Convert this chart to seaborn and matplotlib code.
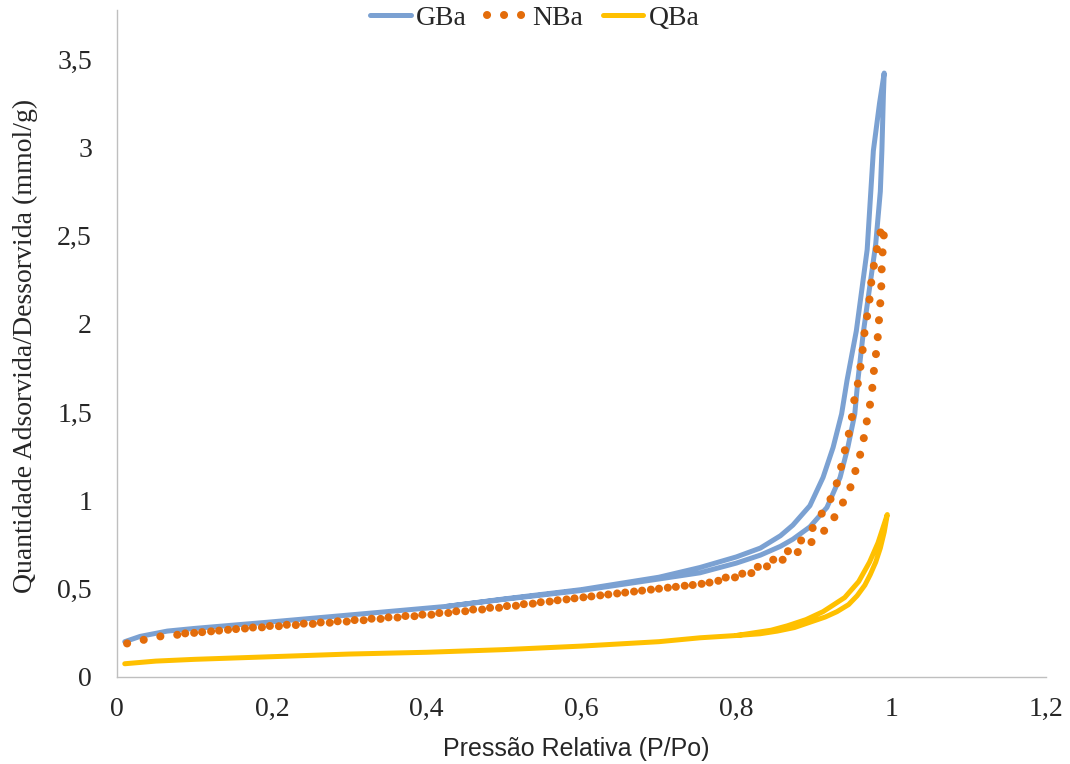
import matplotlib
matplotlib.use("Agg")
import matplotlib.pyplot as plt
import seaborn as sns
import pandas as pd
from matplotlib.ticker import FuncFormatter

# ---------------- data ----------------
gba_ads_p = [0.01, 0.03, 0.065, 0.10, 0.194, 0.323, 0.426, 0.50, 0.60, 0.70, 0.753, 0.80,
             0.831, 0.857, 0.873, 0.895, 0.917, 0.934, 0.944, 0.953, 0.957, 0.964, 0.972,
             0.980, 0.986, 0.988, 0.990, 0.991]
gba_ads_q = [0.20, 0.23, 0.26, 0.275, 0.31, 0.36, 0.40, 0.44, 0.49, 0.555, 0.59, 0.645,
             0.69, 0.74, 0.78, 0.85, 0.96, 1.13, 1.30, 1.49, 1.68, 1.95, 2.20,
             2.45, 2.75, 2.98, 3.30, 3.42]
gba_des_p = [0.991, 0.985, 0.977, 0.973, 0.969, 0.955, 0.943, 0.936, 0.925, 0.912, 0.895,
             0.873, 0.857, 0.831, 0.80, 0.753, 0.70, 0.60, 0.50, 0.426]
gba_des_q = [3.42, 3.25, 2.98, 2.70, 2.42, 1.96, 1.68, 1.49, 1.30, 1.13, 0.97,
             0.86, 0.80, 0.73, 0.68, 0.62, 0.565, 0.495, 0.442, 0.40]

nba_ads_p = [0.013, 0.034, 0.056, 0.08, 0.10, 0.15, 0.20, 0.30, 0.40, 0.50, 0.60, 0.70,
             0.76, 0.794, 0.815, 0.836, 0.858, 0.877, 0.896, 0.912, 0.926, 0.938, 0.948,
             0.954, 0.960, 0.965, 0.969, 0.973, 0.976, 0.978, 0.981, 0.983, 0.985, 0.987,
             0.988, 0.990, 0.991]
nba_ads_q = [0.19, 0.21, 0.23, 0.24, 0.25, 0.27, 0.285, 0.315, 0.35, 0.395, 0.45, 0.50,
             0.53, 0.56, 0.58, 0.62, 0.66, 0.70, 0.76, 0.82, 0.90, 0.99, 1.08,
             1.17, 1.26, 1.36, 1.46, 1.55, 1.65, 1.75, 1.85, 1.94, 2.07, 2.17,
             2.36, 2.46, 2.55]
nba_des_p = [0.991, 0.988, 0.983, 0.979, 0.975, 0.973, 0.970, 0.966, 0.964, 0.961, 0.958,
             0.953, 0.950, 0.946, 0.941, 0.936, 0.930, 0.922, 0.911, 0.898, 0.883, 0.866,
             0.846, 0.826, 0.805, 0.783, 0.762, 0.70, 0.60, 0.50, 0.40, 0.30, 0.20, 0.10, 0.08]
nba_des_q = [2.55, 2.55, 2.46, 2.36, 2.27, 2.17, 2.07, 1.97, 1.88, 1.78, 1.68,
             1.59, 1.49, 1.39, 1.30, 1.20, 1.10, 1.01, 0.93, 0.84, 0.77, 0.71,
             0.66, 0.62, 0.58, 0.56, 0.53, 0.50, 0.45, 0.40, 0.355, 0.32, 0.29, 0.25, 0.245]

qba_ads_p = [0.01, 0.05, 0.10, 0.20, 0.30, 0.40, 0.50, 0.60, 0.70, 0.753, 0.80, 0.831,
             0.853, 0.875, 0.895, 0.915, 0.930, 0.945, 0.956, 0.966, 0.973, 0.980, 0.986,
             0.991, 0.995]
qba_ads_q = [0.075, 0.09, 0.10, 0.115, 0.13, 0.14, 0.155, 0.175, 0.20, 0.222, 0.235, 0.245,
             0.26, 0.28, 0.31, 0.34, 0.37, 0.41, 0.46, 0.52, 0.58, 0.65, 0.73,
             0.82, 0.92]
qba_des_p = [0.995, 0.992, 0.983, 0.972, 0.958, 0.940, 0.912, 0.890, 0.866, 0.845, 0.80]
qba_des_q = [0.92, 0.88, 0.76, 0.65, 0.54, 0.45, 0.37, 0.325, 0.29, 0.265, 0.235]

series_names = ["GBa", "NBa", "QBa"]
colors = {"GBa": "#7BA1D2", "NBa": "#E36C0A", "QBa": "#FFC000"}

x_ticks = [0, 0.2, 0.4, 0.6, 0.8, 1.0, 1.2]
y_ticks = [0, 0.5, 1.0, 1.5, 2.0, 2.5, 3.0, 3.5]
x_label = "Pressão Relativa (P/Po)"
y_label = "Quantidade Adsorvida/Dessorvida (mmol/g)"

# ---------------- figure ----------------
sns.set_theme(style="white")
plt.rcParams["font.family"] = ["Liberation Serif", "DejaVu Serif"]

fig = plt.figure(figsize=(10.7, 7.64), dpi=100)
ax = fig.add_axes([117 / 1070, 1 - 677 / 764, 929 / 1070, 667 / 764])


def loop_frame(ap, aq, dp, dq):
    return pd.DataFrame({"P": list(ap) + list(dp), "Q": list(aq) + list(dq)})


frames = {
    "GBa": loop_frame(gba_ads_p, gba_ads_q, gba_des_p, gba_des_q),
    "NBa": loop_frame(nba_ads_p, nba_ads_q, nba_des_p, nba_des_q),
    "QBa": loop_frame(qba_ads_p, qba_ads_q, qba_des_p, qba_des_q),
}

sns.lineplot(data=frames["GBa"], x="P", y="Q", sort=False, estimator=None, ax=ax,
             color=colors["GBa"], linewidth=3.6, label="GBa",
             solid_capstyle="round", solid_joinstyle="round")
sns.lineplot(data=frames["NBa"], x="P", y="Q", sort=False, estimator=None, ax=ax,
             color=colors["NBa"], linewidth=5.8, label="NBa",
             linestyle=(0, (0.01, 2.1)), dash_capstyle="round")
sns.lineplot(data=frames["QBa"], x="P", y="Q", sort=False, estimator=None, ax=ax,
             color=colors["QBa"], linewidth=3.6, label="QBa",
             solid_capstyle="round", solid_joinstyle="round")

ax.set_xlim(0, 1.2)
ax.set_ylim(0, 3.777)
ax.set_xticks(x_ticks)
ax.set_yticks(y_ticks)


def comma_fmt(v, pos):
    s = f"{v:.1f}".rstrip("0").rstrip(".")
    return s.replace(".", ",")


ax.xaxis.set_major_formatter(FuncFormatter(comma_fmt))
ax.yaxis.set_major_formatter(FuncFormatter(comma_fmt))

for side in ["top", "right"]:
    ax.spines[side].set_visible(False)
for side in ["left", "bottom"]:
    ax.spines[side].set_color("#BFBFBF")
    ax.spines[side].set_linewidth(1.0)

ax.tick_params(axis="both", which="major", direction="out", length=6.5, width=1.0,
               color="#BFBFBF", labelsize=20, labelcolor="#262626")
ax.tick_params(axis="y", pad=11.5)
ax.tick_params(axis="x", pad=8)
ax.grid(False)

ax.set_xlabel(x_label, family=["Liberation Sans", "DejaVu Sans"], fontsize=18,
              color="#262626")
ax.xaxis.set_label_coords(0.494, -0.09)
ax.set_ylabel(y_label, family=["Liberation Serif", "DejaVu Serif"], fontsize=20,
              color="#262626")
ax.yaxis.set_label_coords(-0.085, 0.496)

handles = ax.get_lines()[:3]
leg = fig.legend(handles, series_names, loc="center", bbox_to_anchor=(0.5, 0.976),
                 ncol=3, frameon=False, fontsize=20, handlelength=1.45,
                 handletextpad=0.2, columnspacing=0.7, borderaxespad=0)
for t in leg.get_texts():
    t.set_color("#262626")
if ax.get_legend() is not None:
    ax.get_legend().remove()

fig.savefig("out.png", dpi=100, facecolor="white")
